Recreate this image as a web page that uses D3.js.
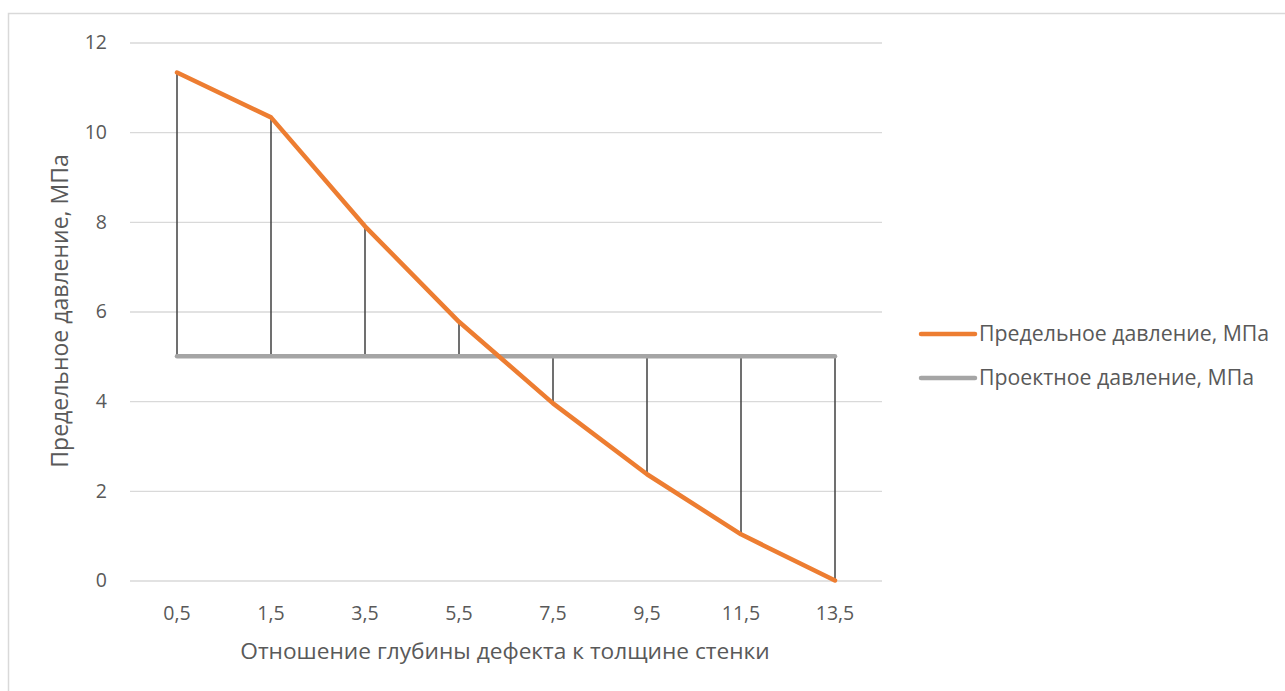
<!DOCTYPE html>
<html><head><meta charset="utf-8">
<script src="https://cdn.jsdelivr.net/npm/d3@7"></script>
<style>body{margin:0;background:#fff}svg{display:block}text{font-family:"Open Sans",sans-serif;fill:#595959}</style>
</head><body>
<svg id="c" width="1285" height="691"></svg>
<script>
const categories = ["0,5","1,5","3,5","5,5","7,5","9,5","11,5","13,5"];
const limitPressure = [11.33, 10.33, 7.9, 5.77, 3.95, 2.37, 1.03, 0];
const designPressure = [5, 5, 5, 5, 5, 5, 5, 5];
const yTicks = [0, 2, 4, 6, 8, 10, 12];
const seriesNames = ["Предельное давление, МПа", "Проектное давление, МПа"];
const xTitle = "Отношение глубины дефекта к толщине стенки";
const yTitle = "Предельное давление, МПа";

const svg = d3.select("#c");
svg.append("rect").attr("x",8.5).attr("y",13.5).attr("width",1300).attr("height",700)
  .attr("fill","none").attr("stroke","#d9d9d9").attr("stroke-width",1.5);

const x = d3.scaleBand().domain(categories).range([130, 882]);
const y = d3.scaleLinear().domain([0, 12]).range([580.5, 42.5]);

// gridlines
const gy = svg.append("g").attr("transform","translate(130,0)")
  .call(d3.axisLeft(y).tickValues(yTicks).tickSize(-752).tickFormat(""));
gy.select(".domain").remove();
gy.selectAll(".tick line").attr("stroke","#d9d9d9").attr("stroke-width",1.3);

// y tick labels
svg.append("g").selectAll("text").data(yTicks).join("text")
  .attr("x",107).attr("y",d=>y(d)).attr("dy","0.35em").attr("text-anchor","end")
  .style("font-size","19.5px").text(d=>d);

// x tick labels
svg.append("g").selectAll("text").data(categories).join("text")
  .attr("x",d=>x(d)+x.bandwidth()/2).attr("y",613).attr("dy","0.35em").attr("text-anchor","middle")
  .style("font-size","19.5px").text(d=>d);

// titles
svg.append("text").attr("x",505).attr("y",651).attr("dy","0.35em").attr("text-anchor","middle")
  .style("font-size","22.7px").text(xTitle);
svg.append("text").attr("transform","translate(60,311) rotate(-90)").attr("dy","0.35em").attr("text-anchor","middle")
  .style("font-size","23px").text(yTitle);

// high-low lines
svg.append("g").selectAll("line").data(categories).join("line")
  .attr("x1",d=>x(d)+x.bandwidth()/2).attr("x2",d=>x(d)+x.bandwidth()/2)
  .attr("y1",(d,i)=>y(limitPressure[i])).attr("y2",(d,i)=>y(designPressure[i]))
  .attr("stroke","#404040").attr("stroke-width",1.5);

const line = d3.line().x((d,i)=>x(categories[i])+x.bandwidth()/2).y(d=>y(d));
svg.append("path").datum(designPressure).attr("d",line).attr("fill","none")
  .attr("stroke","#a5a5a5").attr("stroke-width",4.5).attr("stroke-linecap","round");
svg.append("path").datum(limitPressure).attr("d",line).attr("fill","none")
  .attr("stroke","#ed7d31").attr("stroke-width",4.5).attr("stroke-linecap","round").attr("stroke-linejoin","round");

// legend
const colors = ["#ed7d31","#a5a5a5"];
const lg = svg.append("g").selectAll("g").data(seriesNames).join("g")
  .attr("transform",(d,i)=>`translate(0,${334+i*44})`);
lg.append("line").attr("x1",921).attr("x2",975).attr("stroke",(d,i)=>colors[i])
  .attr("stroke-width",4.5).attr("stroke-linecap","round");
lg.append("text").attr("x",979).attr("dy","0.35em").style("font-size","21.3px").text(d=>d);
</script>
</body></html>
